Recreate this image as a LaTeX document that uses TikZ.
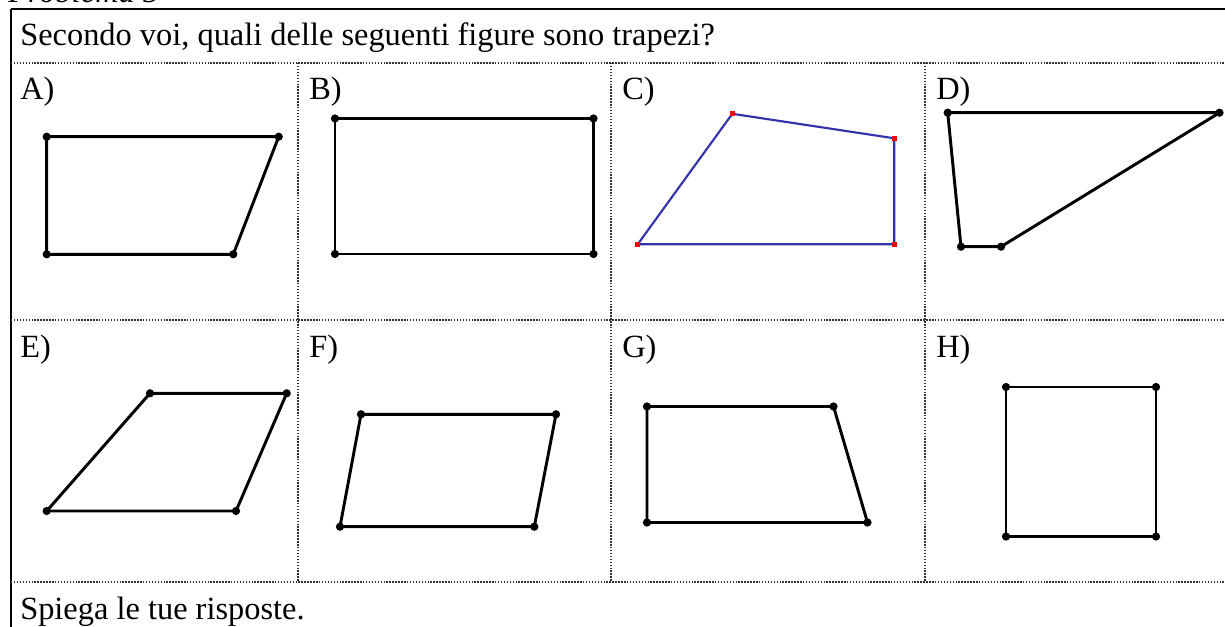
\documentclass[tikz,border=0pt]{standalone}
\usepackage{fontspec}
\setmainfont{Liberation Serif}
\begin{document}
\begin{tikzpicture}[x=0.75pt,y=-0.75pt,
  frame/.style={line width=1.7pt, black},
  sep/.style={line width=1.2pt, black!80, dash pattern=on 1.1pt off 1.1pt},
  quad/.style={line width=2.2pt, black, line join=round},
  bquad/.style={line width=1.6pt, draw={rgb,255:red,50;green,50;blue,170}},
  lbl/.style={anchor=base west, inner sep=0, font=\fontsize{24.3}{28}\selectfont},
  vdot/.style={circle, fill=black, inner sep=0, minimum size=6.2pt},
  rdot/.style={rectangle, fill=red, inner sep=0, minimum size=3.6pt}]
\useasboundingbox (0,0) rectangle (1225,627);
\clip (0,0) rectangle (1225,627);
% title (cut off at top, as in the reference)
\node[lbl, font=\fontsize{24.3}{28}\selectfont\itshape] (title) at (8,3) {Problema 5};
% table frame
\draw[frame] (11,9) -- (1226,9);
\draw[frame] (11,9) -- (11,628);
\draw[sep] (11,63) -- (1226,63);
\draw[sep] (11,320) -- (1226,320);
\draw[sep] (11,582) -- (1226,582);
\foreach \x in {298,611,925} \draw[sep] (\x,63) -- (\x,582);
% texts
\node[lbl] (q) at (20,46) {Secondo voi, quali delle seguenti figure sono trapezi?};
\node[lbl] (la) at (20,100) {A)};
\node[lbl] (lb) at (309,100) {B)};
\node[lbl] (lc) at (622,100) {C)};
\node[lbl] (ld) at (936,100) {D)};
\node[lbl] (le) at (20,358) {E)};
\node[lbl] (lf) at (309,358) {F)};
\node[lbl] (lg) at (622,358) {G)};
\node[lbl] (lh) at (936,358) {H)};
\node[lbl] (sp) at (20,619) {Spiega le tue risposte.};
% A
\coordinate (a1) at (46.7,136.7); \coordinate (a2) at (278.7,136.7);
\coordinate (a3) at (233.3,254.3); \coordinate (a4) at (46.7,254.3);
\draw[quad] (a1) -- (a2) -- (a3) -- (a4) -- cycle;
% B
\coordinate (b1) at (335,118.5); \coordinate (b2) at (593.5,118.5);
\coordinate (b3) at (593.5,254); \coordinate (b4) at (335,254);
\draw[quad] (b1) -- (b2) -- (b3) -- (b4) -- cycle;
% C
\coordinate (c1) at (637.7,244.3); \coordinate (c2) at (732.3,113.8);
\coordinate (c3) at (894.3,138.3); \coordinate (c4) at (894.3,244.3);
\draw[bquad] (c1) -- (c2) -- (c3) -- (c4) -- cycle;
% D
\coordinate (d1) at (947.7,112.7); \coordinate (d2) at (1219.5,112.7);
\coordinate (d3) at (1001,246.7); \coordinate (d4) at (961,246.7);
\draw[quad] (d1) -- (d2) -- (d3) -- (d4) -- cycle;
% E
\coordinate (e1) at (46.7,511); \coordinate (e2) at (150,393.3);
\coordinate (e3) at (286.7,393.3); \coordinate (e4) at (236,511);
\draw[quad] (e1) -- (e2) -- (e3) -- (e4) -- cycle;
% F
\coordinate (f1) at (340,526.7); \coordinate (f2) at (361,414.3);
\coordinate (f3) at (556,414.3); \coordinate (f4) at (534.3,526.7);
\draw[quad] (f1) -- (f2) -- (f3) -- (f4) -- cycle;
% G
\coordinate (g1) at (647,406.5); \coordinate (g2) at (833.5,406.5);
\coordinate (g3) at (867.5,522.5); \coordinate (g4) at (647,522.5);
\draw[quad] (g1) -- (g2) -- (g3) -- (g4) -- cycle;
% H
\coordinate (h1) at (1006,387); \coordinate (h2) at (1156,387);
\coordinate (h3) at (1156,536.5); \coordinate (h4) at (1006,536.5);
\draw[quad] (h1) -- (h2) -- (h3) -- (h4) -- cycle;
% vertices
\foreach \p in {a,b,d,e,f,g,h} \foreach \i in {1,2,3,4} \node[vdot] at (\p\i) {};
\foreach \i in {1,2,3,4} \node[rdot] at (c\i) {};
\end{tikzpicture}
\end{document}
